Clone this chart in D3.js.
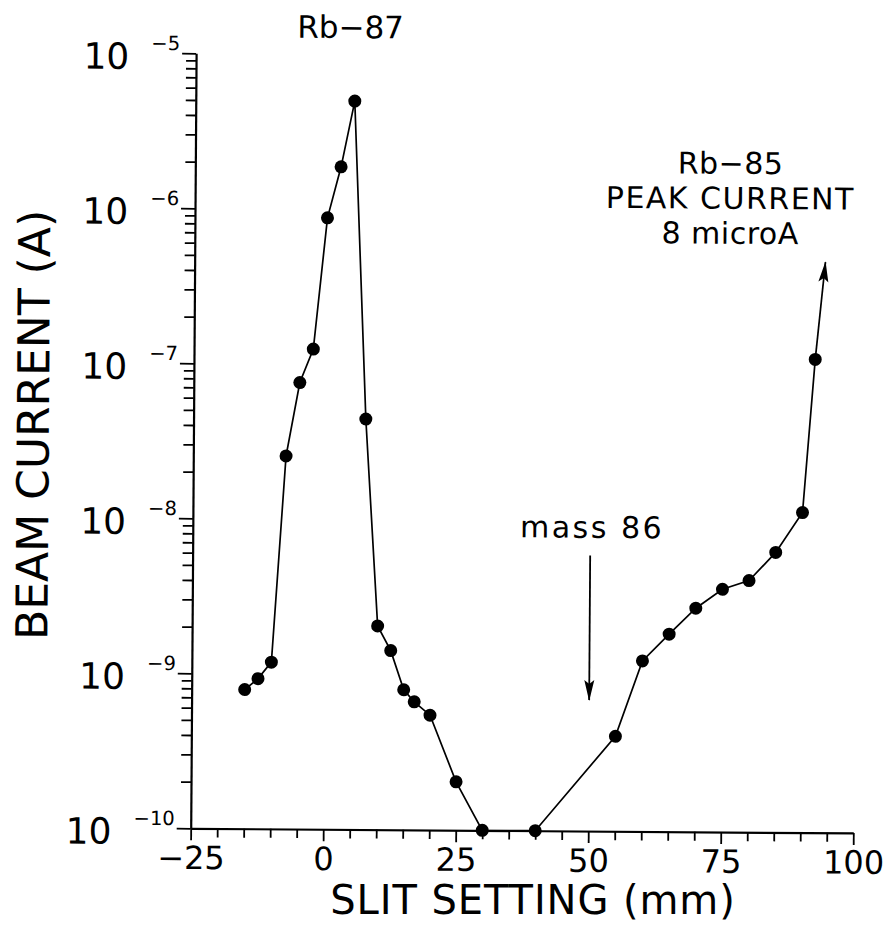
<!DOCTYPE html>
<html>
<head>
<meta charset="utf-8">
<script src="https://cdn.jsdelivr.net/npm/d3@7"></script>
<style>
  body { margin: 0; background: #fff; }
  svg { font-family: "DejaVu Sans", sans-serif; }
</style>
</head>
<body>
<script>
// slit setting (mm) and beam current (A)
const slit = [-15, -12.5, -10, -7.5, -5, -2.5, 0, 2.5, 5, 7.5, 10, 12.5, 15, 17, 20, 25, 30,
  40, 55, 60, 65, 70, 75, 80, 85, 90, 92.2]
const current = [7.9e-10, 9.3e-10, 1.19e-9, 2.55e-8, 7.6e-8, 1.25e-7, 8.8e-7, 1.88e-6, 5.0e-6, 4.45e-8,
  2.06e-9, 1.43e-9, 8.0e-10, 6.7e-10, 5.5e-10, 2.05e-10, 1e-10,
  1e-10, 4.1e-10, 1.26e-9, 1.88e-9, 2.77e-9, 3.68e-9, 4.2e-9, 6.4e-9, 1.16e-8, 1.13e-7]

// arrows: Rb-85 rising off scale, and the mass 86 marker
const rb85Arrow = [[92.2, 1.13e-7], [94, 4.8e-7]]
const mass86Arrow = [[50, 6e-9], [50, 7e-10]]

const xTicks = d3.range(-25, 101, 5)
const xLabels = [-25, 0, 25, 50, 75, 100]
const decades = [-10, -9, -8, -7, -6, -5]

const width = 887
const height = 927
const margin = { top: 53.3, right: 33.7, bottom: 98.7, left: 190.7 }

const svg = d3.select('body')
  .append('svg')
    .attr('width', width)
    .attr('height', height)

svg.append('rect')
  .attr('width', width)
  .attr('height', height)
  .attr('fill', '#fff')

const defs = svg.append('defs')
defs.append('marker')
    .attr('id', 'head')
    .attr('markerUnits', 'userSpaceOnUse')
    .attr('viewBox', '0 0 21 11')
    .attr('markerWidth', 21)
    .attr('markerHeight', 11)
    .attr('refX', 20)
    .attr('refY', 5.5)
    .attr('orient', 'auto')
  .append('path')
    .attr('d', 'M0,0.5 L21,5.5 L0,10.5 L4,5.5 Z')
    .attr('fill', '#000')

// the scanned figure is tilted a little, keep that
const g = svg.append('g')
  .attr('transform', `rotate(0.4, ${margin.left}, ${height - margin.bottom})`)

const x = d3.scaleLinear()
  .domain([-25, 100])
  .range([margin.left, width - margin.right])

const y = d3.scaleLog()
  .domain([1e-10, 1e-5])
  .range([height - margin.bottom, margin.top])

const isDecade = d => Math.abs(Math.log10(d) - Math.round(Math.log10(d))) < 1e-6

let yTicks = []
decades.slice(0, -1).forEach(dec => {
  d3.range(1, 10).forEach(m => yTicks.push(m * Math.pow(10, dec)))
})
yTicks.push(1e-5)

const xAxis = d3.axisBottom(x)
  .tickValues(xTicks)
  .tickSize(10)
  .tickSizeOuter(0)
  .tickPadding(8)
  .tickFormat(d => xLabels.includes(d) ? d3.format('d')(d) : '')

const yAxis = d3.axisLeft(y)
  .tickValues(yTicks)
  .tickSize(10)
  .tickSizeOuter(0)
  .tickFormat('')

const gx = g.append('g')
  .attr('transform', `translate(0, ${height - margin.bottom})`)
  .call(xAxis)
gx.selectAll('.tick line').attr('y2', d => d % 25 === 0 ? 12 : 9).attr('stroke-width', 1.8)
gx.selectAll('.tick text')
  .attr('font-size', 32)
  .attr('font-family', '"DejaVu Sans", sans-serif')
  .attr('fill', '#000')

const gy = g.append('g')
  .attr('transform', `translate(${margin.left}, 0)`)
  .call(yAxis)
gy.selectAll('.tick line').attr('x2', d => isDecade(d) ? -14 : -10).attr('stroke-width', 1.8)

g.selectAll('.domain').attr('stroke-width', 2.2)

// decade labels, 10 with a raised exponent
const yLab = g.append('g')
  .selectAll('text')
  .data(decades)
  .join('text')
    .attr('x', margin.left - 16)
    .attr('y', d => y(Math.pow(10, d)) + 16)
    .attr('text-anchor', 'end')
    .attr('font-size', 36)
yLab.append('tspan').text('10')
yLab.append('tspan')
  .attr('dx', 22)
  .attr('dy', -19)
  .attr('font-size', 19.5)
  .text(d => '\u2212' + (-d))

// axis titles
g.append('text')
  .attr('transform', `translate(46, 426) rotate(-90)`)
  .attr('text-anchor', 'middle')
  .attr('font-size', 44)
  .text('BEAM CURRENT (A)')

svg.append('text')
  .attr('x', 533)
  .attr('y', 914)
  .attr('text-anchor', 'middle')
  .attr('font-size', 40)
  .attr('letter-spacing', 0.9)
  .text('SLIT SETTING (mm)')

// data
const pts = slit.map((s, i) => [s, current[i]])
const line = d3.line()
  .x(d => x(d[0]))
  .y(d => y(d[1]))

g.append('path')
  .datum(pts)
  .attr('d', line)
  .attr('fill', 'none')
  .attr('stroke', '#000')
  .attr('stroke-width', 1.7)

g.append('g')
  .selectAll('circle')
  .data(pts)
  .join('circle')
    .attr('cx', d => x(d[0]))
    .attr('cy', d => y(d[1]))
    .attr('r', 6.5)
    .attr('fill', '#000')

g.append('path')
  .datum(rb85Arrow)
  .attr('d', line)
  .attr('fill', 'none')
  .attr('stroke', '#000')
  .attr('stroke-width', 1.7)
  .attr('marker-end', 'url(#head)')

g.append('path')
  .datum(mass86Arrow)
  .attr('d', line)
  .attr('fill', 'none')
  .attr('stroke', '#000')
  .attr('stroke-width', 1.8)
  .attr('marker-end', 'url(#head)')

// annotations
g.append('text')
  .attr('x', 345)
  .attr('y', 37)
  .attr('text-anchor', 'middle')
  .attr('font-size', 31)
  .text('Rb\u221287')

const note = g.append('text')
  .attr('text-anchor', 'middle')
  .attr('font-size', 30)
note.selectAll('tspan')
  .data(['Rb\u221285', 'PEAK CURRENT', '8 microA'])
  .join('tspan')
    .attr('x', 726)
    .attr('y', (d, i) => 170 + i * 35)
    .attr('letter-spacing', (d, i) => i === 1 ? 1.5 : 0.5)
    .text(d => d)

g.append('text')
  .attr('x', 590)
  .attr('y', 535)
  .attr('text-anchor', 'middle')
  .attr('font-size', 30)
  .attr('letter-spacing', 2.5)
  .text('mass 86')
</script>
</body>
</html>
